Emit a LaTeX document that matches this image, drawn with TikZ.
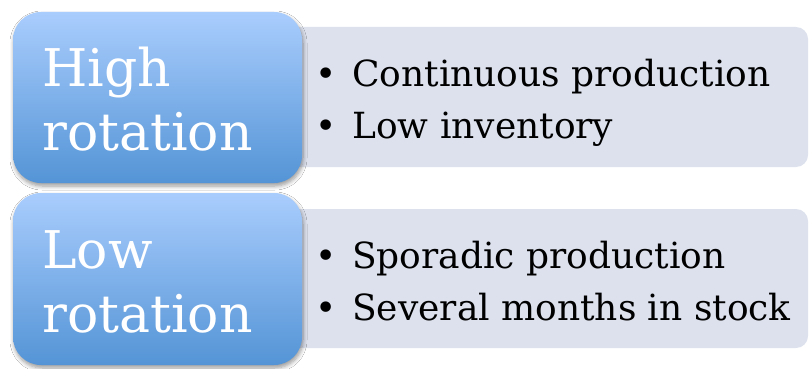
\documentclass[tikz,border=0pt]{standalone}
\usepackage{fontspec}
\setmainfont{DejaVu Serif}
\usetikzlibrary{shadows.blur}
\definecolor{bluetop}{HTML}{A9CDFD}
\definecolor{bluebot}{HTML}{5494D6}
\definecolor{graybox}{HTML}{DCE1ED}
\tikzset{
  headbox/.style={rounded corners=28pt, top color=bluetop, bottom color=bluebot, draw=none,
    blur shadow={shadow xshift=1pt, shadow yshift=-3pt, shadow blur radius=4pt, shadow blur steps=6, shadow opacity=40}},
  listbox/.style={rounded corners=12pt, fill=graybox, draw=none},
  headtext/.style={anchor=base west, inner sep=0pt, text=white, font=\fontsize{52}{60}\selectfont},
  itemtext/.style={anchor=base west, inner sep=0pt, text=black, font=\fontsize{36}{42}\selectfont},
  bullet/.style={anchor=base, inner sep=0pt, text=black, font=\fontsize{36}{42}\selectfont}
}
\begin{document}
\begin{tikzpicture}[x=1pt,y=-1pt]
\useasboundingbox (0,0) rectangle (809,369);
\fill[white] (0,0) rectangle (809,369);
% row 1
\path[listbox] (280,27) rectangle (808,167);
\path[headbox] (13,12) rectangle (302,183);
\node[headtext] (h1a) at (42,86) {High};
\node[headtext] (h1b) at (42,150) {rotation};
\node[bullet] (b1a) at (326,86) {•};
\node[itemtext] (t1a) at (352,86) {Continuous production};
\node[bullet] (b1b) at (326,138) {•};
\node[itemtext] (t1b) at (352,138) {Low inventory};
% row 2
\path[listbox] (280,209) rectangle (808,348);
\path[headbox] (13,193) rectangle (302,365);
\node[headtext] (h2a) at (42,268) {Low};
\node[headtext] (h2b) at (42,332) {rotation};
\node[bullet] (b2a) at (326,268) {•};
\node[itemtext] (t2a) at (352,268) {Sporadic production};
\node[bullet] (b2b) at (326,320) {•};
\node[itemtext] (t2b) at (352,320) {Several months in stock};
\end{tikzpicture}
\end{document}
